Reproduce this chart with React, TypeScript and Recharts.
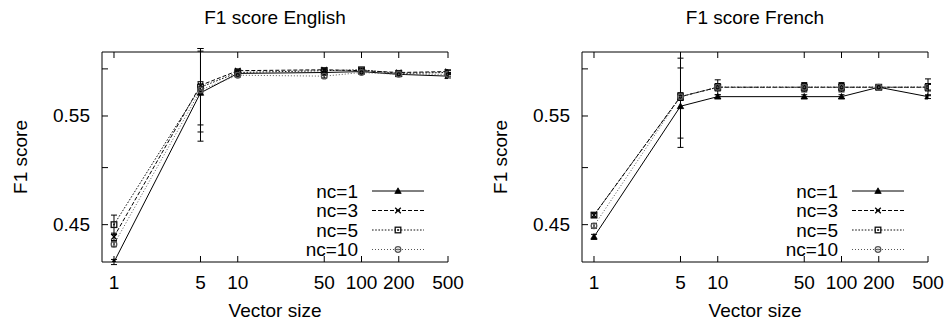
import React from 'react';
import { LineChart, Line, XAxis, YAxis, ErrorBar, Legend } from 'recharts';

// ---------- data ----------
const vectorSizes = [1, 5, 10, 50, 100, 200, 500];
const seriesLabels = ['nc=1', 'nc=3', 'nc=5', 'nc=10'];
const xTickValues = [1, 5, 10, 50, 100, 200, 500];
const yTickValues = [0.45, 0.5, 0.55, 0.6];
const yTickLabels = ['0.45', '', '0.55', ''];
const panelTitles = ['F1 score English', 'F1 score French'];
const xAxisTitle = 'Vector size';
const yAxisTitle = 'F1 score';

const englishNc1 = [0.42, 0.574, 0.595, 0.596, 0.597, 0.594, 0.592];
const englishNc3 = [0.44, 0.582, 0.598, 0.599, 0.598, 0.596, 0.597];
const englishNc5 = [0.45, 0.58, 0.596, 0.598, 0.599, 0.595, 0.596];
const englishNc10 = [0.434, 0.577, 0.593, 0.592, 0.596, 0.594, 0.594];
const englishNc1Err = [0.002, 0.049, 0.003, 0.003, 0.002, 0.002, 0.002];
const englishNc3Err = [0.003, 0.041, 0.002, 0.002, 0.002, 0.002, 0.002];
const englishNc5Err = [0.008, 0.006, 0.002, 0.002, 0.002, 0.002, 0.002];
const englishNc10Err = [0.002, 0.043, 0.002, 0.002, 0.002, 0.002, 0.002];

const frenchNc1 = [0.44, 0.56, 0.57, 0.57, 0.57, 0.58, 0.57];
const frenchNc3 = [0.458, 0.57, 0.58, 0.58, 0.58, 0.58, 0.58];
const frenchNc5 = [0.458, 0.57, 0.58, 0.58, 0.58, 0.58, 0.58];
const frenchNc10 = [0.449, 0.57, 0.58, 0.58, 0.58, 0.58, 0.58];
const frenchNc1Err = [0.002, 0.041, 0.002, 0.002, 0.002, 0.002, 0.002];
const frenchNc3Err = [0.002, 0.042, 0.008, 0.005, 0.005, 0.002, 0.009];
const frenchNc5Err = [0.002, 0.004, 0.004, 0.004, 0.004, 0.002, 0.004];
const frenchNc10Err = [0.002, 0.004, 0.003, 0.003, 0.003, 0.002, 0.003];

function buildRows(s1, s3, s5, s10, e1, e3, e5, e10) {
  return vectorSizes.map((size, i) => ({
    size,
    nc1: s1[i], nc3: s3[i], nc5: s5[i], nc10: s10[i],
    nc1Err: e1[i], nc3Err: e3[i], nc5Err: e5[i], nc10Err: e10[i],
  }));
}

const englishRows = buildRows(englishNc1, englishNc3, englishNc5, englishNc10,
  englishNc1Err, englishNc3Err, englishNc5Err, englishNc10Err);
const frenchRows = buildRows(frenchNc1, frenchNc3, frenchNc5, frenchNc10,
  frenchNc1Err, frenchNc3Err, frenchNc5Err, frenchNc10Err);

// ---------- styles ----------
const FONT = '"Liberation Sans", Arial, Helvetica, sans-serif';
const FS = 19;
const seriesStyles = [
  { key: 'nc1', dash: undefined, color: '#000', marker: 'triangle' },
  { key: 'nc3', dash: '4 2', color: '#000', marker: 'cross' },
  { key: 'nc5', dash: '1.6 1.6', color: '#111', marker: 'square' },
  { key: 'nc10', dash: '1 2', color: '#555', marker: 'circle' },
];

function Marker({ kind, cx, cy, color }) {
  if (cx == null || cy == null) return null;
  switch (kind) {
    case 'triangle':
      return <path d={`M${cx},${cy - 3.2}L${cx + 3.2},${cy + 2.4}L${cx - 3.2},${cy + 2.4}Z`} fill={color} stroke={color} strokeWidth={0.8} />;
    case 'cross':
      return <path d={`M${cx - 2.8},${cy - 2.8}L${cx + 2.8},${cy + 2.8}M${cx - 2.8},${cy + 2.8}L${cx + 2.8},${cy - 2.8}`} stroke={color} strokeWidth={1.3} fill="none" />;
    case 'square':
      return (
        <g>
          <rect x={cx - 2.8} y={cy - 2.8} width={5.6} height={5.6} fill="none" stroke={color} strokeWidth={1.3} />
          <rect x={cx - 0.8} y={cy - 0.8} width={1.6} height={1.6} fill={color} />
        </g>
      );
    default:
      return (
        <g>
          <circle cx={cx} cy={cy} r={2.8} fill="none" stroke={color} strokeWidth={1.3} />
          <circle cx={cx} cy={cy} r={0.9} fill={color} />
        </g>
      );
  }
}

const TICK_LEN = 6;

function BottomTick(props) {
  const { x, y, payload } = props;
  return (
    <g>
      <line x1={x} y1={y} x2={x} y2={y - TICK_LEN} stroke="#000" strokeWidth={1} />
      <text x={x} y={y + 27} textAnchor="middle" fontFamily={FONT} fontSize={FS} fill="#000">
        {String(payload.value)}
      </text>
    </g>
  );
}

function TopTick(props) {
  const { x, y } = props;
  return <line x1={x} y1={y} x2={x} y2={y + TICK_LEN} stroke="#000" strokeWidth={1} />;
}

function LeftTick(props) {
  const { x, y, payload } = props;
  const label = yTickLabels[yTickValues.indexOf(payload.value)] ?? '';
  return (
    <g>
      <line x1={x} y1={y} x2={x + TICK_LEN} y2={y} stroke="#000" strokeWidth={1} />
      {label ? (
        <text x={x - 12} y={y + 6.5} textAnchor="end" fontFamily={FONT} fontSize={FS} fill="#000">
          {label}
        </text>
      ) : null}
    </g>
  );
}

function RightTick(props) {
  const { x, y } = props;
  return <line x1={x} y1={y} x2={x - TICK_LEN} y2={y} stroke="#000" strokeWidth={1} />;
}

function TitleLabel(props) {
  const { viewBox, text } = props;
  if (!viewBox) return null;
  return (
    <text x={viewBox.x + viewBox.width / 2} y={24} textAnchor="middle" fontFamily={FONT} fontSize={FS} fill="#000">
      {text}
    </text>
  );
}

function XTitleLabel(props) {
  const { viewBox } = props;
  if (!viewBox) return null;
  return (
    <text x={viewBox.x + viewBox.width / 2} y={viewBox.y + 55} textAnchor="middle" fontFamily={FONT} fontSize={FS} fill="#000">
      {xAxisTitle}
    </text>
  );
}

function YTitleLabel(props) {
  const { viewBox } = props;
  if (!viewBox) return null;
  const tx = viewBox.x + 27;
  const ty = viewBox.y + viewBox.height / 2;
  return (
    <text x={tx} y={ty} transform={`rotate(-90, ${tx}, ${ty})`} textAnchor="middle" fontFamily={FONT} fontSize={FS} fill="#000">
      {yAxisTitle}
    </text>
  );
}

function LegendBox({ width }) {
  return (
    <svg width={width} height={322} style={{ display: 'block', overflow: 'visible' }}>
      {seriesLabels.map((lab, i) => {
        const st = seriesStyles[i];
        const cy = 191 + i * 19.5;
        return (
          <g key={lab}>
            <text x={358} y={cy + 6.5} textAnchor="end" fontFamily={FONT} fontSize={FS} fill="#000">{lab}</text>
            <line x1={372} y1={cy} x2={424} y2={cy} stroke={st.color} strokeWidth={1} strokeDasharray={st.dash} />
            <Marker kind={st.marker} cx={398} cy={cy} color={st.color} />
          </g>
        );
      })}
    </svg>
  );
}

function Panel({ title, rows, width, marginRight }) {
  return (
    <LineChart width={width} height={322} data={rows} margin={{ top: 0, right: marginRight, bottom: 0, left: 0 }}>
      <XAxis xAxisId="b" dataKey="size" type="number" scale="log" domain={[0.8, 500]} allowDataOverflow
        ticks={xTickValues} interval={0} tickSize={0} tickMargin={0} height={60}
        axisLine={{ stroke: '#000', strokeWidth: 1 }} tickLine={false}
        tick={(p) => <BottomTick {...p} />} label={<XTitleLabel />} />
      <XAxis xAxisId="t" dataKey="size" orientation="top" type="number" scale="log" domain={[0.8, 500]} allowDataOverflow
        ticks={xTickValues} interval={0} tickSize={0} tickMargin={0} height={52}
        axisLine={{ stroke: '#000', strokeWidth: 1 }} tickLine={false}
        tick={(p) => <TopTick {...p} />} label={<TitleLabel text={title} />} />
      <YAxis yAxisId="l" type="number" scale="log" domain={[0.42, 0.619]} allowDataOverflow
        ticks={yTickValues} interval={0} tickSize={0} tickMargin={0} width={102}
        axisLine={{ stroke: '#000', strokeWidth: 1 }} tickLine={false}
        tick={(p) => <LeftTick {...p} />} label={<YTitleLabel />} />
      <YAxis yAxisId="r" orientation="right" type="number" scale="log" domain={[0.42, 0.619]} allowDataOverflow
        ticks={yTickValues} interval={0} tickSize={0} tickMargin={0} width={0}
        axisLine={{ stroke: '#000', strokeWidth: 1 }} tickLine={false}
        tick={(p) => <RightTick {...p} />} />
      {seriesStyles.map((st) => (
        <Line key={st.key} xAxisId="b" yAxisId="l" type="linear" dataKey={st.key}
          stroke={st.color} strokeWidth={1} strokeDasharray={st.dash}
          isAnimationActive={false}
          dot={(p) => (
            <g key={`${st.key}-${p.index}`}>
              <Marker kind={st.marker} cx={p.cx} cy={p.cy} color={st.color} />
            </g>
          )}
          activeDot={false}>
          <ErrorBar dataKey={`${st.key}Err`} width={3} stroke="#000" strokeWidth={1} direction="y" isAnimationActive={false} />
        </Line>
      ))}
      <Legend layout="horizontal" verticalAlign="middle" align="center"
        wrapperStyle={{ position: 'absolute', left: 0, top: 0, width: width, height: 322, margin: 0, pointerEvents: 'none' }}
        content={() => <LegendBox width={width} />} />
    </LineChart>
  );
}

export default function App() {
  return (
    <div style={{ position: 'absolute', left: 0, top: 0, width: 946, height: 322, background: '#fff', overflow: 'hidden' }}>
      <div style={{ position: 'absolute', left: 0, top: 0 }}>
        <Panel title={panelTitles[0]} rows={englishRows} width={480} marginRight={32} />
      </div>
      <div style={{ position: 'absolute', left: 480, top: 0 }}>
        <Panel title={panelTitles[1]} rows={frenchRows} width={466} marginRight={18} />
      </div>
    </div>
  );
}
